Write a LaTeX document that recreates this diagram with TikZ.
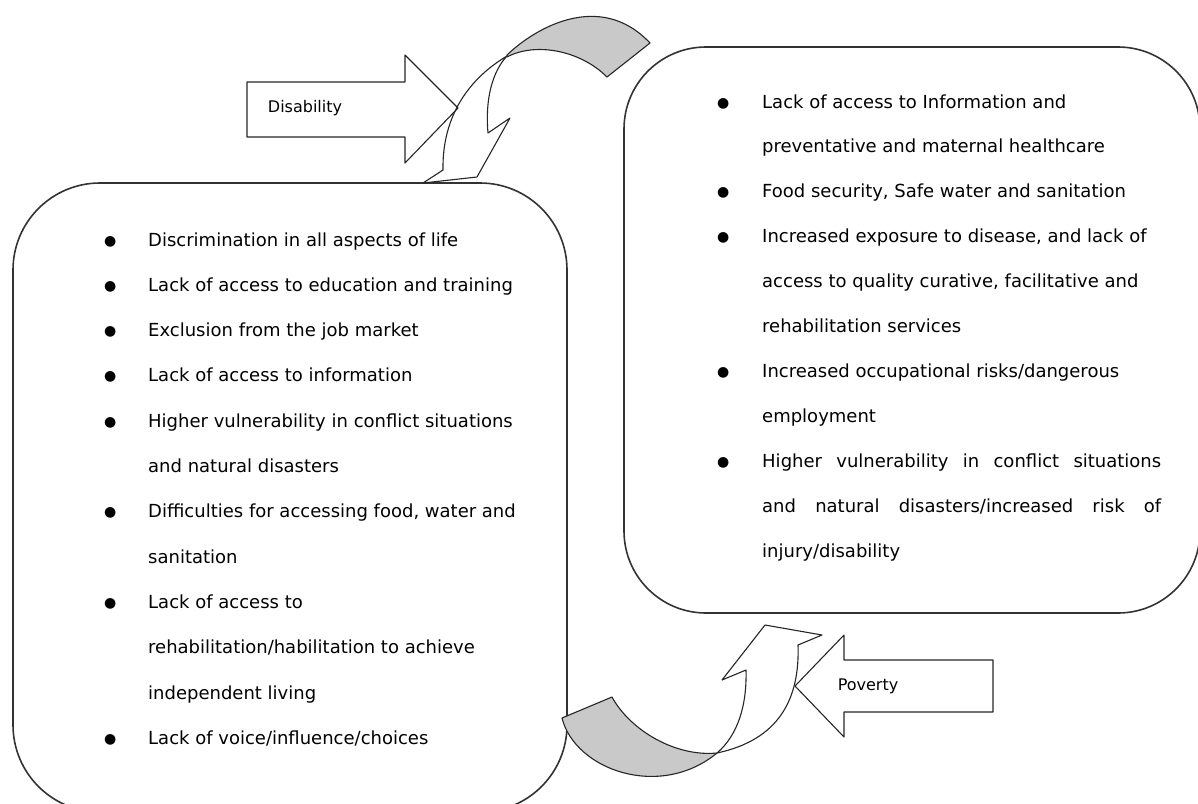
\documentclass[tikz,border=0pt]{standalone}
\usepackage{fontspec}
\setmainfont{DejaVu Sans}
\usepackage{array}
\newcommand{\listfont}{\fontsize{18}{45.3}\selectfont}
\newcommand{\labelfont}{\fontsize{16}{18}\selectfont}
\newcommand{\dotb}{\raisebox{1pt}{\fontsize{14}{14}\selectfont ●}}

\begin{document}
\begin{tikzpicture}[line cap=round,line join=round,x=1pt,y=-1pt,
  panel/.style={draw=black!80,line width=1.6pt},
  blockarrow/.style={draw=black!85,line width=1.1pt},
  band/.style={draw=black!85,line width=1.1pt,fill=black!21},
  front/.style={draw=black!85,line width=1.1pt,fill=white}]
\useasboundingbox (0,0) rectangle (1198,803);
\clip (0,0) rectangle (1198,803);
\draw[panel,rounded corners=87pt] (13,183) rectangle (567,812);
\draw[panel,rounded corners=82pt] (624,47) rectangle (1200,613);
\node[anchor=base west,inner sep=0pt] (harms) at (104,246) {\listfont
\begin{tabular}[t]{@{}p{44pt}@{}l@{}}
\dotb & Discrimination in all aspects of life\\
\dotb & Lack of access to education and training\\
\dotb & Exclusion from the job market\\
\dotb & Lack of access to information\\
\dotb & Higher vulnerability in conflict situations\\
      & and natural disasters\\
\dotb & Difficulties for accessing food, water and\\
      & sanitation\\
\dotb & Lack of access to\\
      & rehabilitation/habilitation to achieve\\
      & independent living\\
\dotb & Lack of voice/influence/choices
\end{tabular}};
\node[anchor=base west,inner sep=0pt] (risks) at (717,108) {\fontsize{18}{44.9}\selectfont
\begin{tabular}[t]{@{}p{45pt}@{}l@{}}
\dotb & Lack of access to Information and\\
      & preventative and maternal healthcare\\
\dotb & Food security, Safe water and sanitation\\
\dotb & Increased exposure to disease, and lack of\\
      & access to quality curative, facilitative and\\
      & rehabilitation services\\
\dotb & Increased occupational risks/dangerous\\
      & employment\\
\dotb & \makebox[399pt][s]{Higher vulnerability in conflict situations}\\
      & \makebox[399pt][s]{and natural disasters/increased risk of}\\
      & injury/disability
\end{tabular}};
\draw[band] (507,55) .. controls (535,28) and (600,-10) .. (650,43) -- (607,77)
  .. controls (580,50) and (535,42) .. (507,57) -- cycle;
\draw[front] (507,56) .. controls (470,78) and (442,115) .. (443,170) -- (423,183)
  -- (477,177) -- (510,118) -- (488,133) .. controls (485,100) and (492,72) .. (507,56) -- cycle;
\draw[band] (562,718) .. controls (575,770) and (660,800) .. (717,753)
  .. controls (675,757) and (630,730) .. (612,697) -- cycle;
\draw[front] (717,753) .. controls (738,735) and (747,705) .. (746,670) -- (722,680)
  -- (765,625) -- (822,635) -- (798,645) .. controls (800,700) and (778,740) .. (717,753) -- cycle;
\draw[blockarrow] (247,82) -- (405,82) -- (405,55) -- (458,108) -- (405,163) -- (405,137) -- (247,137) -- cycle;
\draw[blockarrow] (993,660) -- (844,660) -- (844,635) -- (795,686) -- (844,737) -- (844,712) -- (993,712) -- cycle;
\node[font=\labelfont] (disab) at (305,108) {Disability};
\node[font=\labelfont] (pov) at (868,686) {Poverty};
\end{tikzpicture}
\end{document}
